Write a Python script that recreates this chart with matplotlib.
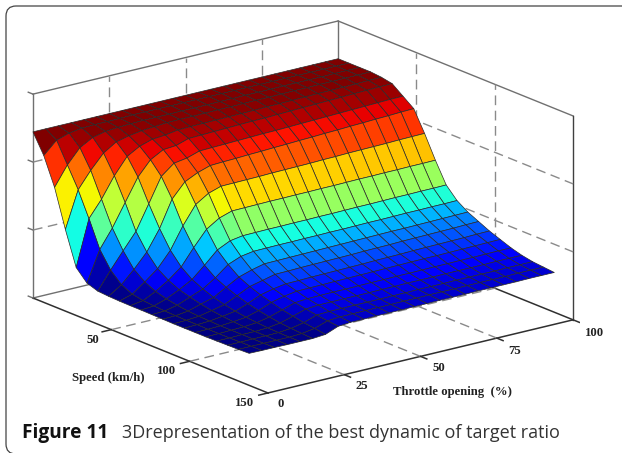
import numpy as np
import matplotlib
matplotlib.use('Agg')
import matplotlib.pyplot as plt
from matplotlib.colors import Normalize
from matplotlib.patches import FancyBboxPatch
from matplotlib.transforms import IdentityTransform

W, H = 622, 453

# speed grid (km/h), one entry per surface row
speed = [0, 6.9, 13.8, 20.7, 27.6, 34.5, 41.4, 48.3, 55.2, 62.1, 69, 75.9,
         82.8, 89.7, 96.6, 103.5, 110.4, 117.3, 124.2, 131.1, 138]
# throttle grid (%)
throttle = [0, 4.2, 8.3, 12.5, 16.7, 20.8, 25, 29.2, 33.3, 37.5, 41.7, 45.8, 50,
            54.2, 58.3, 62.5, 66.7, 70.8, 75, 79.2, 83.3, 87.5, 91.7, 95.8, 100]
# surface height, one list per throttle value
z_by_throttle = [
    [.815, .72, .585, .40, .235, .18, .162, .158, .156, .155, .155, .154, .153, .152, .152, .152, .152, .153, .154, .155, .157],
    [.815, .78, .68, .58, .46, .33, .25, .20, .175, .165, .16, .157, .155, .154, .154, .153, .153, .153, .154, .155, .156],
    [.815, .80, .75, .66, .54, .42, .33, .26, .22, .195, .18, .17, .163, .159, .157, .155, .155, .155, .155, .155, .156],
    [.815, .81, .785, .73, .64, .53, .41, .33, .27, .235, .21, .195, .182, .172, .165, .16, .157, .155, .155, .155, .155],
    [.815, .812, .80, .77, .72, .64, .53, .43, .345, .285, .245, .22, .20, .186, .175, .167, .162, .158, .156, .155, .155],
    [.815, .812, .805, .785, .755, .71, .65, .56, .45, .365, .30, .26, .235, .215, .198, .185, .175, .167, .162, .158, .155],
    [.815, .813, .808, .795, .775, .745, .70, .63, .54, .44, .36, .31, .27, .245, .225, .21, .195, .185, .175, .168, .16],
    [.815, .815, .81, .80, .78, .75, .71, .66, .58, .48, .39, .335, .29, .26, .24, .225, .215, .205, .197, .19, .185],
    [.815, .815, .81, .805, .79, .77, .73, .68, .60, .50, .40, .345, .305, .275, .25, .235, .22, .21, .20, .195, .19],
    [.815, .815, .81, .806, .792, .772, .732, .683, .601, .501, .401, .346, .306, .276, .251, .236, .221, .21, .2, .195, .19],
    [.815, .815, .811, .806, .793, .774, .734, .685, .602, .502, .402, .347, .307, .278, .253, .237, .222, .211, .201, .196, .191],
    [.815, .815, .811, .807, .794, .776, .736, .688, .603, .503, .402, .347, .308, .279, .254, .238, .222, .211, .201, .196, .191],
    [.815, .815, .811, .808, .795, .778, .738, .69, .605, .503, .403, .348, .309, .28, .255, .239, .223, .211, .201, .196, .191],
    [.815, .815, .812, .808, .796, .78, .74, .693, .606, .504, .403, .348, .31, .281, .256, .24, .224, .212, .202, .197, .192],
    [.815, .815, .812, .809, .797, .781, .741, .695, .607, .504, .404, .349, .311, .282, .257, .241, .224, .212, .202, .197, .192],
    [.815, .815, .813, .81, .799, .783, .743, .698, .608, .505, .404, .349, .312, .284, .259, .242, .225, .213, .203, .198, .193],
    [.815, .815, .813, .81, .80, .785, .745, .70, .61, .505, .405, .35, .313, .285, .26, .243, .225, .213, .203, .198, .193],
    [.815, .815, .813, .811, .801, .787, .747, .703, .611, .506, .406, .351, .314, .286, .261, .244, .226, .213, .203, .198, .193],
    [.815, .815, .814, .812, .803, .789, .749, .705, .613, .507, .406, .351, .315, .288, .263, .245, .227, .214, .204, .199, .194],
    [.815, .815, .814, .812, .804, .791, .751, .708, .614, .507, .407, .352, .315, .289, .264, .245, .227, .214, .204, .199, .194],
    [.815, .815, .814, .813, .805, .793, .753, .71, .615, .508, .408, .353, .316, .29, .265, .246, .228, .214, .204, .199, .194],
    [.815, .815, .814, .813, .806, .795, .755, .713, .616, .508, .408, .353, .317, .291, .266, .247, .228, .214, .204, .199, .194],
    [.815, .815, .815, .814, .807, .797, .757, .715, .618, .509, .409, .354, .318, .292, .267, .248, .229, .215, .205, .2, .195],
    [.815, .815, .815, .814, .809, .799, .759, .718, .619, .509, .409, .354, .319, .294, .269, .249, .23, .215, .205, .2, .195],
    [.815, .815, .815, .815, .81, .80, .76, .72, .62, .51, .41, .355, .32, .295, .27, .25, .23, .215, .205, .2, .195],
]
speed_ticks = [50, 100, 150]
throttle_ticks = [25, 50, 75, 100]
z_ticks = [0, 1 / 3, 2 / 3, 1]

fig = plt.figure(figsize=(W / 100, H / 100), dpi=100)
side = 568.3
ax = fig.add_axes([11.2 / W, -45.8 / H, side / W, side / H], projection='3d',
                  proj_type='ortho', computed_zorder=False)
ax.set_xlim(0, 150, view_margin=0)
ax.set_ylim(0, 100, view_margin=0)
ax.set_zlim(0, 1, view_margin=0)
ax.set_box_aspect((1, 1, 0.557))
ax.view_init(elev=18.13, azim=-37.6)
ax.set_axis_off()


def seg(p, q, **kw):
    ax.plot([p[0], q[0]], [p[1], q[1]], [p[2], q[2]], zorder=1, **kw)


solid = dict(color='#707070', lw=1.0)
dark = dict(color='#303030', lw=1.1)
dash = dict(color='#8a8a8a', lw=1.0, dashes=(7, 4))

# box outline
seg((0, 0, 0), (0, 0, 1), **solid)
seg((0, 0, 1), (0, 100, 1), **solid)
seg((0, 100, 1), (150, 100, 1), **solid)
seg((0, 100, 0), (0, 100, 1), **solid)
seg((150, 100, 0), (150, 100, 1), color='#404040', lw=1.0)
seg((0, 0, 0), (0, 100, 0), **solid)
seg((0, 100, 0), (150, 100, 0), **dark)
seg((0, 0, 0), (150, 0, 0), **dark)
seg((150, 0, 0), (150, 100, 0), **dark)

# grid lines and tick marks
for s in speed_ticks[:-1]:
    seg((s, 0, 0), (s, 100, 0), **dash)
    seg((s, 100, 0), (s, 100, 1), **dash)
for s in speed_ticks:
    seg((s, 0, 0), (s, -3, 0), **dark)
for t in throttle_ticks[:-1]:
    seg((0, t, 0), (150, t, 0), **dash)
    seg((0, t, 0), (0, t, 1), **dash)
for t in throttle_ticks:
    seg((150, t, 0), (154, t, 0), **dark)
for z in z_ticks[1:-1]:
    seg((0, 0, z), (0, 100, z), **dash)
    seg((0, 100, z), (150, 100, z), **dash)
for z in z_ticks:
    seg((0, 0, z), (-3, 0, z), **solid)

X, Y = np.meshgrid(speed, throttle)
Z = np.array(z_by_throttle)
norm = Normalize(vmin=.152, vmax=.815)
ax.plot_surface(X, Y, Z, rstride=1, cstride=1, facecolors=plt.cm.jet(norm(Z)),
                shade=False, edgecolor='#2a2a2a', linewidth=0.5, zorder=2)


def label(x, y, s, **kw):
    fig.text(x / W, 1 - y / H, s, ha='center', va='center', **kw)


tick_font = dict(family='Liberation Serif', weight='bold', fontsize=9.2, color='#222222')
for x, y, s in zip([93, 167, 245], [340, 371, 402.5], speed_ticks):
    label(x, y, str(s), **tick_font)
for x, y, s in zip([281, 362, 439, 515, 595], [404, 386, 368, 351, 333], [0] + throttle_ticks):
    label(x, y, str(s), **tick_font)
label(108, 378, 'Speed (km/h)', **tick_font)
label(452, 392.5, 'Throttle opening  (%)', **tick_font)

fig.text(22 / W, 1 - 433 / H, 'Figure 11', family='Open Sans', weight='bold',
         fontsize=13.8, color='#111111', ha='left', va='center')
fig.text(122 / W, 1 - 433 / H, '3Drepresentation of the best dynamic of target ratio',
         family='Open Sans', fontsize=13, color='#333333', ha='left', va='center')

# rounded panel frame, runs off the right and bottom edge
fig.add_artist(FancyBboxPatch((16, 9), 640, H - 25, boxstyle='round,pad=10,rounding_size=10',
                              transform=IdentityTransform(), fc='none', ec='#444444', lw=0.9))

fig.savefig('out.png', dpi=100)
